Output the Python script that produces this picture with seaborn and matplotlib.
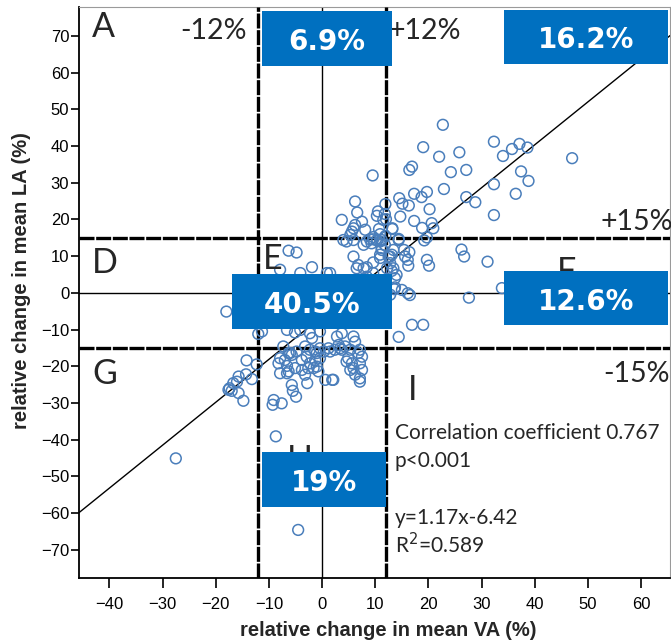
import matplotlib
matplotlib.use("Agg")
import matplotlib.pyplot as plt
from matplotlib.patches import Rectangle
import seaborn as sns
import pandas as pd

# ---------------- data ----------------
va_change = [
    # upper right
    22.7, 32.3, 19.0, 37.1, 35.7, 38.6, 34.0, 25.8, 22.0, 47.0, 16.9, 16.4, 27.1, 24.2, 37.4,
    38.8, 32.3, 22.9, 19.7, 17.3, 18.7, 36.4, 27.1, 28.8, 14.5, 15.1, 16.3, 20.2, 14.7, 32.3,
    17.3, 20.6, 18.8, 20.9, 13.2, 19.7, 19.2, 14.4, 13.2,
    # upper middle
    9.5, 6.2, 11.9, 10.5, 10.3, 12.0, 7.5, 6.6, 3.7, 6.2, 5.9, 5.6, 5.3, 8.1, 10.7, 10.9,
    11.5, 11.8, 9.6, 9.0, 10.9, 11.9, 4.0, 4.6, 5.9, 7.8, 8.4, 9.6, 10.3, 9.3, 11.2, 11.8, 14.4,
    # right middle
    26.2, 26.7, 31.1, 27.6, 33.8, 19.7, 20.1, 16.4, 16.1, 16.2, 15.4, 13.4, 13.1, 12.8, 12.8,
    15.6, 13.4, 14.0, 13.7, 13.7, 16.1, 16.5, 13.6, 12.8, 12.2, 13.1, 15.0,
    # inner
    11.2, 10.9, 5.9, 6.8, 6.5, 8.4, 9.6, 1.5, 0.9, 7.5, 8.4, 9.6, 7.8, 10.9, 11.2, 12.5,
    # E, left of zero
    -6.3, -4.8, -1.9, -4.1, -7.9,
    # left
    -18.0, -11.3, -12.0,
    # below zero, centre
    -6.6, -5.1, -4.1, -2.3, -0.4, -1.9, -7.3, -6.3, -5.7, -4.8, -3.2, -2.3, -1.3, -0.4, 0.3,
    2.8, 3.7, 5.9, 6.2, 3.1, 2.4, 3.7, 5.3, 7.1, 6.8, 4.9, 5.6, 5.9, 7.5, 6.2, 7.1, 3.4, 4.3,
    1.5, 7.1, 2.1, 1.2, 4.6, 7.1, 7.5, 5.3,
    16.9, 19.0, 14.4,
    # lower centre
    -7.9, -7.0, -8.2, -6.6, -6.3, -7.9, -5.1, -3.8, -2.9, -2.3, -1.3, -3.8, -3.2, -2.6, -1.6,
    -1.0, -0.7, -0.4, -6.0, -1.0, -6.6, -5.7, -5.5, -4.9, -9.1, -9.3, -7.6, -2.8, 0.6, 1.9,
    -8.7, -4.5,
    # lower left
    -14.2, -12.3, -15.7, -16.0, -14.3, -13.2, -16.7, -17.4, -17.0, -17.6, -15.7, -14.8, -27.5,
]
la_change = [
    45.8, 41.2, 39.7, 40.6, 39.2, 39.6, 37.3, 38.3, 37.1, 36.7, 34.4, 33.5, 33.5, 32.9, 33.1,
    30.5, 29.6, 28.3, 27.5, 27.0, 26.1, 27.0, 26.1, 24.7, 25.8, 24.3, 23.8, 22.8, 20.8, 21.2,
    19.6, 19.0, 17.7, 17.6, 17.6, 15.1, 14.3, 14.7, 17.4,
    32.0, 24.9, 24.2, 22.2, 21.0, 20.1, 19.4, 21.9, 19.9, 18.5, 17.6, 16.7, 15.8, 17.2, 17.4, 16.0,
    19.9, 21.5, 15.2, 14.6, 14.0, 15.5, 14.4, 14.0, 14.4, 13.1, 14.0, 14.6, 14.3, 13.5, 14.4, 13.1, 14.4,
    11.8, 9.9, 8.5, -1.3, 1.3, 9.0, 7.4, 11.1, 9.0, 7.4, 11.7, 11.7, 10.4, 9.9, 8.1,
    9.9, 6.7, 4.9, 4.0, 1.5, -0.1, -0.6, 1.0, -0.5, 6.7, 6.0, 0.8,
    11.7, 9.5, 9.9, 7.6, 6.7, 7.0, 8.3, 5.4, 5.4, 3.5, 4.4, 5.4, 6.7, 10.4, 12.2, 9.9,
    11.5, 11.0, 7.0, 5.4, 6.3,
    -5.1, -10.5, -11.2,
    -10.1, -10.8, -10.1, -11.0, -10.5, -12.3, -14.6, -16.4, -16.9, -16.0, -14.6, -15.5, -16.0, -15.1, -16.0,
    -11.9, -11.0, -11.9, -13.3, -14.2, -15.5, -15.5, -15.5, -15.5, -16.4, -17.8, -19.2, -20.5, -21.0, -22.3, -23.3, -15.1, -14.6,
    -16.0, -24.2, -23.7, -15.1, -18.7, -19.2, -17.4, -21.0,
    -8.7, -8.7, -12.0,
    -17.8, -18.3, -19.2, -19.9, -21.4, -21.9, -20.5, -18.3, -17.4, -19.2, -18.3, -21.0, -22.3, -20.5, -20.5,
    -20.1, -21.4, -17.8, -16.4, -16.4, -21.9, -25.1, -26.7, -28.3, -29.2, -30.5, -30.1, -24.6, -23.7, -23.7,
    -39.1, -64.6,
    -18.4, -19.5, -22.8, -24.2, -22.2, -23.5, -24.6, -26.0, -26.7, -26.4, -27.3, -29.4, -45.1,
]

x_ticks = [-40, -30, -20, -10, 0, 10, 20, 30, 40, 50, 60]
y_ticks = [-70, -60, -50, -40, -30, -20, -10, 0, 10, 20, 30, 40, 50, 60, 70]
va_cut = [-12, 12]
la_cut = [-15, 15]
slope, intercept = 1.17, -6.42

region_letters = ["A", "D", "E", "F", "G", "H", "I"]
cut_labels = ["-12%", "+12%", "+15%", "-15%"]
box_labels = ["6.9%", "16.2%", "40.5%", "12.6%", "19%"]
stats_lines = ["Correlation coefficient 0.767", "p<0.001", "y=1.17x-6.42", "R$^2$=0.589"]

df = pd.DataFrame({"va": va_change, "la": la_change})

# ---------------- figure ----------------
W, H = 671, 644
sns.set_style("ticks")
plt.rcParams["font.family"] = ["Liberation Sans", "DejaVu Sans"]
plt.rcParams["axes.unicode_minus"] = True

fig = plt.figure(figsize=(W / 100, H / 100), dpi=100)
ax_l, ax_r, ax_t, ax_b = 79, 670, 7, 578
ax = fig.add_axes([ax_l / W, 1 - ax_b / H, (ax_r - ax_l) / W, (ax_b - ax_t) / H])


def P(px, py):
    return (px / W, 1 - py / H)


blue_pt = "#4a7ebb"
box_blue = "#0070c0"

sns.scatterplot(data=df, x="va", y="la", ax=ax, marker="o", s=60,
                facecolor="none", edgecolor=blue_pt, linewidth=1.1, zorder=4)

ax.set_xlim(-45.7, 65.4)
ax.set_ylim(-77.7, 77.9)
ax.set_xticks(x_ticks)
ax.set_yticks(y_ticks)

# reference lines
ax.axvline(0, color="black", lw=1.0, zorder=2)
ax.axhline(0, color="black", lw=1.0, zorder=2)
for v in va_cut:
    ax.axvline(v, color="black", lw=2.4, ls=(0, (4.5, 0.5)), zorder=3)
for h in la_cut:
    ax.axhline(h, color="black", lw=2.4, ls=(0, (4.5, 0.5)), zorder=3)
ax.axline((0, intercept), slope=slope, color="black", lw=1.0, zorder=3)

# spines / ticks
for s in ["left", "bottom"]:
    ax.spines[s].set_color("black")
    ax.spines[s].set_linewidth(1.3)
for s in ["top", "right"]:
    ax.spines[s].set_visible(True)
    ax.spines[s].set_color("#9a9a9a")
    ax.spines[s].set_linewidth(0.8)
ax.tick_params(axis="y", direction="out", length=6, width=1.2, pad=1, labelsize=12, colors="black")
ax.tick_params(axis="x", direction="out", length=7, width=1.2, pad=7, labelsize=12, colors="black")

ax.set_xlabel("relative change in mean VA (%)", fontsize=14.5, fontweight="bold")
ax.set_ylabel("relative change in mean LA (%)", fontsize=14.5, fontweight="bold")
ax.xaxis.set_label_coords((388 - ax_l) / (ax_r - ax_l), (ax_b - 630) / (ax_b - ax_t))
ax.yaxis.set_label_coords((22 - ax_l) / (ax_r - ax_l), (ax_b - 281) / (ax_b - ax_t))
ax.xaxis.label.set_va("center")
ax.yaxis.label.set_va("center")

tfig = fig.transFigure
lato = "Lato"

# region letters (left edge, baseline)
letter_pos = [(92, 37), (92, 273), (263, 269), (557, 282), (92, 384), (287, 470), (408, 400)]
for lab, (px, py) in zip(region_letters, letter_pos):
    ax.text(*P(px, py), lab, transform=tfig, fontsize=24.5, family=lato,
            ha="left", va="baseline", zorder=6, clip_on=False)

# cut-off labels
cut_pos = [((247, 39), "right"), ((389, 39), "left"), ((600, 230), "left"), ((603, 382), "left")]
for lab, ((px, py), ha) in zip(cut_labels, cut_pos):
    ax.text(*P(px, py), lab, transform=tfig, fontsize=20.5, family=lato,
            ha=ha, va="baseline", zorder=6, clip_on=False)

# blue percentage boxes (left, top, right, bottom in pixels)
box_px = [(262, 11, 392, 66), (504, 10, 668, 64), (232, 274, 392, 329),
          (504, 271, 668, 325), (262, 452, 386, 507)]
for lab, (l, t, r, b) in zip(box_labels, box_px):
    x0, y0 = P(l, b)
    ax.add_patch(Rectangle((x0, y0), (r - l) / W, (b - t) / H, transform=tfig,
                           facecolor=box_blue, edgecolor="none", zorder=8, clip_on=False))
    ax.text(*P((l + r) / 2, (t + b) / 2 + 11.5), lab, transform=tfig, fontsize=20,
            fontweight="bold", family="DejaVu Sans", color="white",
            ha="center", va="baseline", zorder=9, clip_on=False)

# statistics text
stat_base = [439, 467, 524, 553]
for lab, py in zip(stats_lines, stat_base):
    ax.text(*P(395, py), lab, transform=tfig, fontsize=15, family=lato,
            ha="left", va="baseline", zorder=6, clip_on=False)

fig.savefig("out.png", dpi=100)
